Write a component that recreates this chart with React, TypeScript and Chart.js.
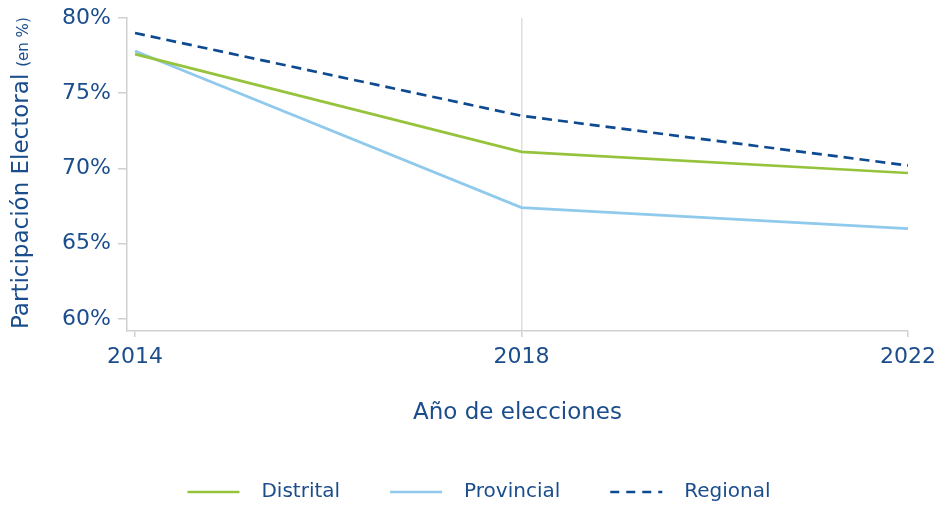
import React, { useEffect, useRef } from "react";
import { Chart, registerables } from "chart.js";

Chart.register(...registerables);

const years = [2014, 2018, 2022];
const distrital = [77.6, 71.1, 69.7];
const provincial = [77.8, 67.4, 66.0];
const regional = [79.0, 73.5, 70.2];
const yTicks = [60, 65, 70, 75, 80];
const seriesNames = ["Distrital", "Provincial", "Regional"];
const yTitle = "Participación Electoral";
const yTitleSub = "(en %)";
const xTitle = "Año de elecciones";

const FONT = "'DejaVu Sans', sans-serif";
const TEXT = "#1b4d8c";
const GREEN = "#95c43c";
const LIGHT = "#8fc9ec";
const DARK = "#0e4a91";
const AXIS = "#d0d0d0";

const titlesAndLegend = {
  id: "titlesAndLegend",
  afterDraw(chart: any) {
    const ctx = chart.ctx as CanvasRenderingContext2D;
    const area = chart.chartArea;
    ctx.save();
    ctx.fillStyle = TEXT;
    // y title
    ctx.save();
    ctx.translate(28, 329);
    ctx.rotate(-Math.PI / 2);
    ctx.textBaseline = "alphabetic";
    ctx.textAlign = "left";
    ctx.font = `23px ${FONT}`;
    ctx.fillText(yTitle, 0, 0);
    const w = ctx.measureText(yTitle).width;
    ctx.font = `15px ${FONT}`;
    ctx.fillText(yTitleSub, w + 7, 0);
    ctx.restore();
    // x title
    ctx.font = `23px ${FONT}`;
    ctx.textAlign = "center";
    ctx.textBaseline = "middle";
    ctx.fillText(xTitle, (area.left + area.right) / 2, 413);
    // legend
    const lineW = 52;
    const gapText = 22;
    const gapItem = 50;
    ctx.font = `20px ${FONT}`;
    const ds = chart.data.datasets;
    const widths = ds.map((d: any) => lineW + gapText + ctx.measureText(d.label).width);
    const total = widths.reduce((a: number, b: number) => a + b, 0) + gapItem * (ds.length - 1);
    let x = 479 - total / 2;
    const y = 492;
    ds.forEach((d: any, i: number) => {
      ctx.save();
      ctx.strokeStyle = d.borderColor;
      ctx.lineWidth = d.borderWidth;
      ctx.setLineDash(d.borderDash && d.borderDash.length ? [9, 7] : []);
      ctx.beginPath();
      ctx.moveTo(x, y);
      ctx.lineTo(x + lineW, y);
      ctx.stroke();
      ctx.restore();
      ctx.fillStyle = TEXT;
      ctx.textAlign = "left";
      ctx.textBaseline = "middle";
      ctx.fillText(d.label, x + lineW + gapText, y);
      x += widths[i] + gapItem;
    });
    ctx.restore();
  },
};

export default function App() {
  const ref = useRef<HTMLCanvasElement>(null);
  useEffect(() => {
    document.body.style.margin = "0";
    const toPts = (arr: number[]) => years.map((x, i) => ({ x, y: arr[i] }));
    const chart = new Chart(ref.current!, {
      type: "line",
      data: {
        datasets: [
          { label: seriesNames[0], data: toPts(distrital), borderColor: GREEN, backgroundColor: GREEN, borderWidth: 2.7, pointRadius: 0, borderDash: [] },
          { label: seriesNames[1], data: toPts(provincial), borderColor: LIGHT, backgroundColor: LIGHT, borderWidth: 2.7, pointRadius: 0, borderDash: [] },
          { label: seriesNames[2], data: toPts(regional), borderColor: DARK, backgroundColor: DARK, borderWidth: 2.7, pointRadius: 0, borderDash: [10, 6] },
        ],
      },
      options: {
        animation: false,
        responsive: true,
        maintainAspectRatio: false,
        events: [],
        layout: { padding: { left: 0, top: 18, right: 32, bottom: 0 } },
        plugins: { legend: { display: false }, tooltip: { enabled: false } },
        scales: {
          x: {
            type: "linear",
            min: 2013.917,
            max: 2022,
            afterBuildTicks: (s: any) => { s.ticks = years.map((v) => ({ value: v })); },
            afterFit: (s: any) => { s.height = 180; s.paddingLeft = 0; s.paddingRight = 0; },
            border: { color: AXIS, width: 1.5 },
            grid: {
              color: (c: any) => (c.tick && c.tick.value === 2018 ? "#dedede" : "rgba(0,0,0,0)"),
              tickColor: AXIS,
              tickLength: 6,
              lineWidth: 1.5,
            },
            ticks: { color: TEXT, font: { family: FONT, size: 22 }, padding: 7, callback: (v: any) => String(v), maxRotation: 0 },
          },
          y: {
            min: 59.2,
            max: 80,
            afterBuildTicks: (s: any) => { s.ticks = yTicks.map((v) => ({ value: v })); },
            afterFit: (s: any) => { s.width = 127; s.paddingTop = 0; s.paddingBottom = 0; },
            border: { color: AXIS, width: 1.5 },
            grid: { color: "rgba(0,0,0,0)", tickColor: AXIS, tickLength: 9, lineWidth: 1.5 },
            ticks: { color: TEXT, font: { family: FONT, size: 22 }, padding: 7, callback: (v: any) => v + "%" },
          },
        },
      },
      plugins: [titlesAndLegend],
    });
    return () => chart.destroy();
  }, []);
  return (
    <div style={{ position: "relative", width: 940, height: 511 }}>
      <canvas ref={ref} />
    </div>
  );
}
